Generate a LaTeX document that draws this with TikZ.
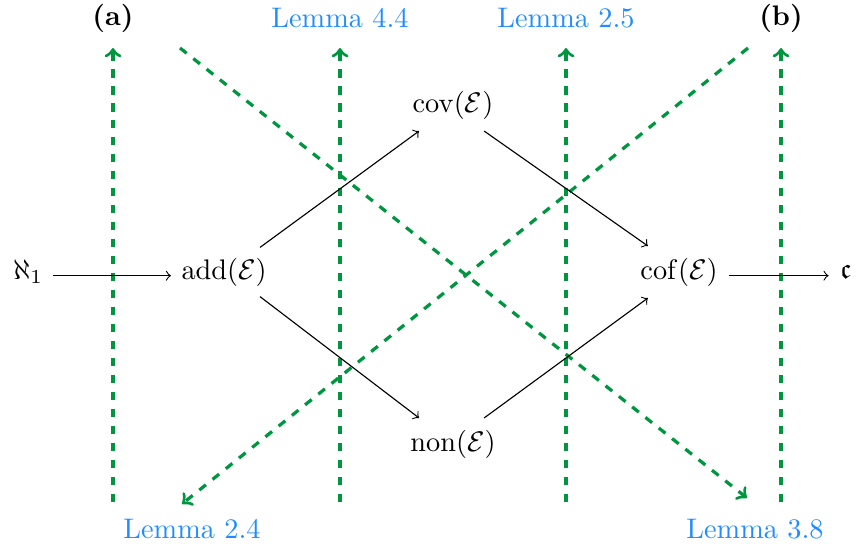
\documentclass[tikz,border=0pt]{standalone}
\usepackage{amsmath,amssymb}
\begin{document}
\begin{tikzpicture}[x=0.3534pt,y=-0.3534pt,
  gdash/.style={draw=lgreen,line width=1.15pt,dashed},
  blk/.style={->,line width=0.4pt},
  lem/.style={text=lblue},
  obj/.style={inner sep=0pt}]
\definecolor{lgreen}{RGB}{0,150,64}
\definecolor{lblue}{RGB}{33,140,255}
\useasboundingbox (0,0) rectangle (858,549);
% labels
\node (la) at (113,18) {\textbf{(a)}};
\node[lem] (l44) at (340,18) {Lemma 4.4};
\node[lem] (l25) at (566,18) {Lemma 2.5};
\node (lb) at (781,18) {\textbf{(b)}};
\node[lem] (l24) at (192,529) {Lemma 2.4};
\node[lem] (l38) at (755,529) {Lemma 3.8};
% green coordinates
\coordinate (a0) at (113,502); \coordinate (a1) at (113,48);
\coordinate (b0) at (340,502); \coordinate (b1) at (340,48);
\coordinate (c0) at (566,502); \coordinate (c1) at (566,48);
\coordinate (d0) at (781,502); \coordinate (d1) at (781,48);
\coordinate (e0) at (180,48); \coordinate (e1) at (747,498);
\coordinate (f0) at (748,48); \coordinate (f1) at (182,504);
\draw[gdash,->] (a0) -- (a1);
\draw[gdash,->] (b0) -- (b1);
\draw[gdash,->] (c0) -- (c1);
\draw[gdash,->] (d0) -- (d1);
\draw[gdash,->] (e0) -- (e1);
\draw[gdash,->] (f0) -- (f1);
% objects
\node[obj] (al) at (28,272) {$\aleph_1$};
\node[obj] (add) at (224,272) {$\operatorname{add}(\mathcal{E})$};
\node[obj] (cov) at (453,105) {$\operatorname{cov}(\mathcal{E})$};
\node[obj] (non) at (453,444) {$\operatorname{non}(\mathcal{E})$};
\node[obj] (cof) at (679,272) {$\operatorname{cof}(\mathcal{E})$};
\node[obj] (cc) at (846,272) {$\mathfrak{c}$};
\draw[blk] ([xshift=3.5pt,yshift=-1.3pt]al.east) -- ([xshift=-3.5pt,yshift=-1.3pt]add.west);
\draw[blk] ([xshift=4pt,yshift=-1.3pt]cof.east) -- ([xshift=-4pt,yshift=-1.3pt]cc.west);
\draw[blk] ([xshift=-2.5pt,yshift=3.5pt]add.north east) -- ([xshift=-12pt,yshift=-4pt]cov.south);
\draw[blk] ([xshift=-2.5pt,yshift=-3.5pt]add.south east) -- ([xshift=-12pt,yshift=4pt]non.north);
\draw[blk] ([xshift=11pt,yshift=-4pt]cov.south) -- ([xshift=-11pt,yshift=4pt]cof.north);
\draw[blk] ([xshift=11pt,yshift=4pt]non.north) -- ([xshift=-11pt,yshift=-4pt]cof.south);
\end{tikzpicture}
\end{document}
